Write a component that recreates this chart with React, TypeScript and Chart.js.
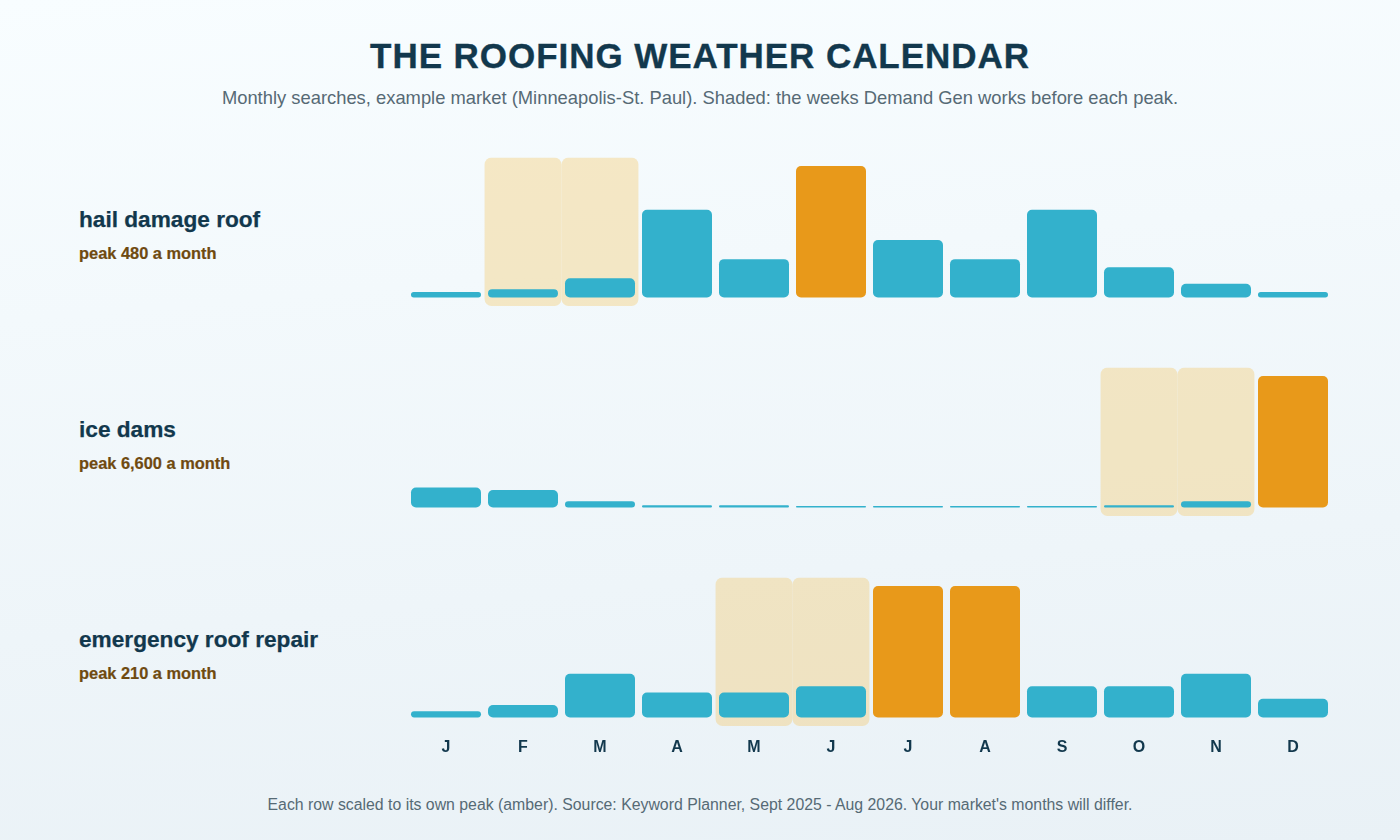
import React, { useEffect, useRef } from "react";
import { Chart, registerables } from "chart.js";

Chart.register(...registerables);

const FONT = '"Liberation Sans", Arial, Helvetica, sans-serif';
const TEAL = "#33b1cc";
const AMBER = "#e8991a";
const SHADE = "rgba(244,190,70,0.3)";
const NAVY = "#12384d";

const months = ["J", "F", "M", "A", "M", "J", "J", "A", "S", "O", "N", "D"];

const hailValues = [20, 30, 70, 320, 140, 480, 210, 140, 320, 110, 50, 20];
const iceValues = [1000, 880, 320, 110, 110, 70, 70, 70, 70, 110, 320, 6600];
const repairValues = [10, 20, 70, 40, 40, 50, 210, 210, 50, 50, 70, 30];

const hailShaded = [1, 2];
const iceShaded = [9, 10];
const repairShaded = [4, 5];

// room around the bars for the shaded blocks, as a share of the row's peak
const SHADE_PAD = 0.0646;

interface RowProps {
  title: string;
  note: string;
  values: number[];
  shaded: number[];
  top: number;
  showMonths?: boolean;
}

const Row: React.FC<RowProps> = ({ title, note, values, shaded, top, showMonths }) => {
  const chartRef = useRef<HTMLCanvasElement | null>(null);
  const height = showMonths ? 200 : 160;

  useEffect(() => {
    if (!chartRef.current) return;
    const peak = Math.max(...values);
    const lo = -peak * SHADE_PAD;
    const hi = peak * (1 + SHADE_PAD);

    const chart = new Chart(chartRef.current, {
      type: "bar",
      data: {
        labels: months,
        datasets: [
          {
            data: values,
            backgroundColor: values.map((v) => (v === peak ? AMBER : TEAL)),
            borderRadius: 5,
            borderSkipped: false,
            inflateAmount: 0,
            barPercentage: 0.909,
            categoryPercentage: 1,
            grouped: false,
            order: 1,
          },
          {
            data: months.map((_, i) => (shaded.includes(i) ? [lo, hi] : null)),
            backgroundColor: SHADE,
            borderRadius: 7,
            borderSkipped: false,
            inflateAmount: 0,
            barPercentage: 0.998,
            categoryPercentage: 1,
            grouped: false,
            order: 2,
          },
        ] as any,
      },
      options: {
        responsive: false,
        animation: false,
        layout: { padding: { left: 7.5, right: 8.5, top: 7.5, bottom: showMonths ? 0 : 4 } },
        plugins: { legend: { display: false }, tooltip: { enabled: false } },
        scales: {
          y: { display: false, min: lo, max: hi },
          x: {
            display: !!showMonths,
            grid: { display: false },
            border: { display: false },
            afterFit: (scale: any) => {
              if (showMonths) scale.height = 44;
            },
            ticks: {
              color: NAVY,
              padding: 4,
              autoSkip: false,
              maxRotation: 0,
              font: { family: FONT, size: 16, weight: "bold" },
            },
          },
        },
      },
    });

    return () => {
      chart.destroy();
    };
  }, [values, shaded, showMonths]);

  return (
    <>
      <canvas
        ref={chartRef}
        width={940}
        height={height}
        style={{ position: "absolute", left: 400, top, width: 940, height }}
      />
      <div
        style={{
          position: "absolute",
          left: 79,
          top: top + 54,
          fontSize: 22.65,
          fontWeight: 700,
          lineHeight: "30px",
          color: NAVY,
          whiteSpace: "nowrap",
          WebkitTextStroke: "0.25px " + NAVY,
        }}
      >
        {title}
      </div>
      <div
        style={{
          position: "absolute",
          left: 79,
          top: top + 92,
          fontSize: 16.4,
          fontWeight: 700,
          lineHeight: "22px",
          color: "#6f4a10",
          whiteSpace: "nowrap",
          WebkitTextStroke: "0.2px #6f4a10",
        }}
      >
        {note}
      </div>
    </>
  );
};

const centered: React.CSSProperties = {
  position: "absolute",
  left: 0,
  width: 1400,
  textAlign: "center",
  whiteSpace: "nowrap",
};

export default function App() {
  return (
    <div
      style={{
        position: "absolute",
        left: 0,
        top: 0,
        width: 1400,
        height: 840,
        overflow: "hidden",
        fontFamily: FONT,
        background: "linear-gradient(175deg, #f8fdff 0%, #e9f1f6 100%)",
      }}
    >
      <div
        style={{
          ...centered,
          top: 34,
          fontSize: 35,
          fontWeight: 700,
          lineHeight: "44px",
          letterSpacing: 0.95,
          color: NAVY,
          WebkitTextStroke: "0.35px " + NAVY,
        }}
      >
        THE ROOFING WEATHER CALENDAR
      </div>
      <div style={{ ...centered, top: 86, fontSize: 18.38, lineHeight: "24px", color: "#566a75" }}>
        Monthly searches, example market (Minneapolis-St. Paul). Shaded: the weeks Demand Gen works before each peak.
      </div>
      <Row title="hail damage roof" note="peak 480 a month" values={hailValues} shaded={hailShaded} top={150} />
      <Row title="ice dams" note="peak 6,600 a month" values={iceValues} shaded={iceShaded} top={360} />
      <Row
        title="emergency roof repair"
        note="peak 210 a month"
        values={repairValues}
        shaded={repairShaded}
        top={570}
        showMonths
      />
      <div style={{ ...centered, top: 795, fontSize: 15.84, lineHeight: "20px", color: "#566a75" }}>
        Each row scaled to its own peak (amber). Source: Keyword Planner, Sept 2025 - Aug 2026. Your market's months will differ.
      </div>
    </div>
  );
}
